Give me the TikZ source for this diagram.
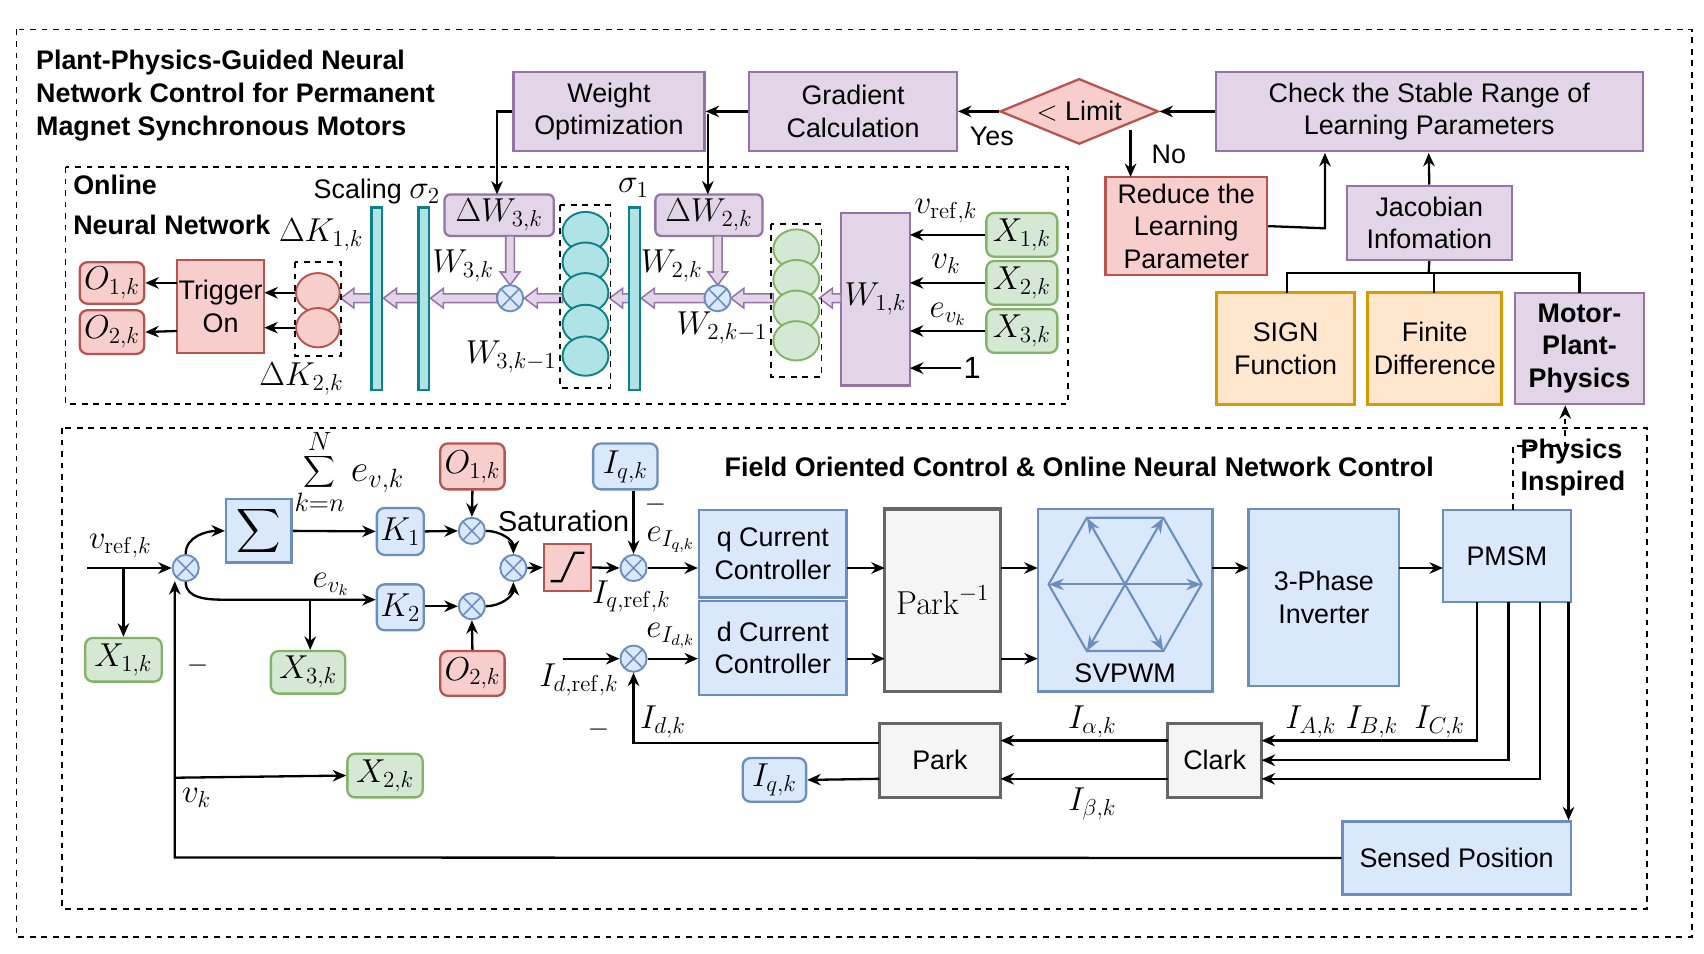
\documentclass[tikz,border=0pt]{standalone}
\usepackage[no-math]{fontspec}
\setmainfont{Liberation Sans}
\usepackage{graphicx}
\usetikzlibrary{arrows.meta,shapes.geometric,calc}
\definecolor{pF}{HTML}{E1D5E7}\definecolor{pD}{HTML}{9673A6}
\definecolor{rF}{HTML}{F8CECC}\definecolor{rD}{HTML}{B85450}
\definecolor{bF}{HTML}{DAE8FC}\definecolor{bD}{HTML}{6C8EBF}
\definecolor{gF}{HTML}{D5E8D4}\definecolor{gD}{HTML}{82B366}
\definecolor{oF}{HTML}{FFE6CC}\definecolor{oD}{HTML}{D79B00}
\definecolor{yF}{HTML}{F5F5F5}\definecolor{yD}{HTML}{666666}
\definecolor{tF}{HTML}{B0E3E6}\definecolor{tD}{HTML}{0E8088}
\newcommand\bx[7]{\node[#6, minimum width={(#4-#2)*0.02cm}, minimum height={(#5-#3)*0.02cm}] (#1) at ({(#2+#4)/2},{(#3+#5)/2}) {#7};}
\newcommand\fatL[3]{\draw[pD,fill=pF,line width=0.8pt] (#1,#3-4) -- (#2+12,#3-4) -- (#2+12,#3-9) -- (#2,#3) -- (#2+12,#3+9) -- (#2+12,#3+4) -- (#1,#3+4) -- cycle;}
\newcommand\fatD[3]{\draw[pD,fill=pF,line width=0.8pt] (#1-4,#2) -- (#1-4,#3-12) -- (#1-9,#3-12) -- (#1,#3) -- (#1+9,#3-12) -- (#1+4,#3-12) -- (#1+4,#2) -- cycle;}
\tikzset{
 base/.style={draw, inner sep=0pt, align=center, font=\fontsize{14}{17}\selectfont, line width=1.2pt},
 mf/.style={font=\fontsize{18}{21}\selectfont},
 pb/.style={base, fill=pF, draw=pD},
 pr/.style={pb, rounded corners=3pt},
 rb/.style={base, fill=rF, draw=rD},
 rr/.style={rb, rounded corners=4pt, mf},
 bb/.style={base, fill=bF, draw=bD},
 br/.style={bb, rounded corners=4pt, mf},
 gr/.style={base, fill=gF, draw=gD, rounded corners=4pt, mf},
 ob/.style={base, fill=oF, draw=oD, line width=1.6pt},
 yb/.style={base, fill=yF, draw=yD, line width=1.6pt},
 tb/.style={base, fill=tF, draw=tD},
 lbl/.style={inner sep=1pt, font=\fontsize{14}{17}\selectfont, align=left},
 ml/.style={lbl, font=\fontsize{17}{20}\selectfont},
 bl/.style={lbl, font=\bfseries\fontsize{14}{17}\selectfont},
 arr/.style={-{Stealth[length=7pt,width=6pt]}, line width=1.2pt},
 ln/.style={line width=1.2pt},
 mul/.style={circle, draw=bD, fill=bF, line width=1pt, minimum size={24*0.02cm}, inner sep=0pt, path picture={\draw[bD,line width=0.8pt] (path picture bounding box.north west)++(0.14,-0.14) -- ($(path picture bounding box.south east)+(-0.14,0.14)$); \draw[bD,line width=0.8pt] ($(path picture bounding box.north east)+(-0.14,-0.14)$) -- ($(path picture bounding box.south west)+(0.14,0.14)$);}},
 dsh/.style={dashed, line width=0.9pt},
}
\begin{document}
\begin{tikzpicture}[x=0.02cm,y=-0.02cm]
\useasboundingbox (0,0) rectangle (1560,873);
\draw[dsh] (15,27) rectangle (1549,858);
\node[bl, anchor=north west] (title) at (31,44) {Plant-Physics-Guided Neural\\Network Control for Permanent\\Magnet Synchronous Motors};
% top row
\bx{wo}{470}{66}{645}{138}{pb}{Weight\\Optimization}
\bx{gc}{686}{66}{876}{138}{pb}{Gradient\\Calculation}
\node[diamond, aspect=2.4, base, fill=rF, draw=rD, minimum width={145*0.02cm}, minimum height={60*0.02cm}] (lim) at (988,102) {$<$ Limit};
\bx{chk}{1113}{66}{1504}{138}{pb}{Check the Stable Range of\\Learning Parameters}
\bx{red}{1012}{162}{1160}{252}{rb}{Reduce the\\Learning\\Parameter}
\bx{jac}{1233}{170}{1384}{238}{pb}{Jacobian\\Infomation}
\bx{sign}{1114}{268}{1240}{370}{ob}{SIGN\\Function}
\bx{fd}{1252}{268}{1375}{370}{ob}{Finite\\Difference}
\bx{mpp}{1387}{268}{1505}{370}{pb}{\bfseries Motor-\\\bfseries Plant-\\\bfseries Physics}
\draw[arr] (chk.west) -- (lim.east);
\draw[arr] (lim.west) -- (gc.east);
\draw[arr] (gc.west) -- (wo.east);
\node[lbl] (yes) at (908,125) {Yes};
\node[lbl] (no) at (1070,141) {No};
\draw[arr] (1035,119) -- (1035,162);
\draw[arr] (red.east) -- (1213,209) -- (1213,140);
\draw[arr] (jac.north) -- (1308,140);
\draw[ln] (jac.south) -- (1308,250);
\draw[ln] (1178,268) -- (1178,250) -- (1446,250) -- (1446,268);
\draw[ln] (1313,250) -- (1313,268);
% online NN
\draw[dsh] (60,153) rectangle (978,370);
\node[bl, anchor=north west] (onn) at (65,158) {Online\\[4pt]Neural Network};
\bx{dw3}{407}{178}{507}{216}{pr}{\fontsize{18}{21}\selectfont$\Delta W_{3,k}$}
\bx{dw2}{600}{178}{698}{216}{pr}{\fontsize{18}{21}\selectfont$\Delta W_{2,k}$}
\draw[arr] (wo.west) -- (455,102) -- (455,178);
\draw[arr] (648,104) -- (648,178);
\bx{w1}{770}{195}{833}{353}{pb}{\fontsize{18}{21}\selectfont$W_{1,k}$}
\bx{x1}{903}{195}{968}{235}{gr}{$X_{1,k}$}
\bx{x2}{903}{239}{968}{279}{gr}{$X_{2,k}$}
\bx{x3}{903}{283}{968}{323}{gr}{$X_{3,k}$}
\draw[arr] (x1.west) -- (833,215);
\draw[arr] (x2.west) -- (833,259);
\draw[arr] (x3.west) -- (833,303);
\node[lbl, font=\fontsize{16}{18}\selectfont] (one) at (890,337) {1};
\draw[arr] (one.west) -- (833,337);
\node[ml] (l1) at (866,193) {$v_{\mathrm{ref},k}$};
\node[ml] (l2) at (866,242) {$v_k$};
\node[ml] (l3) at (868,288) {$e_{v_k}$};
% fat arrows
\fatL{770}{750}{273}
\fatL{708}{669}{273}
\fatL{645}{587}{273}
\fatL{576}{558}{273}
\fatL{515}{480}{273}
\fatL{455}{394}{273}
\fatL{383}{351}{273}
\fatL{340}{312}{273}
\fatD{467}{216}{261}
\fatD{657}{216}{261}
\node[mul] (m3) at (467,273) {};
\node[mul] (m2) at (657,273) {};
\bx{s1}{576}{190}{586}{357}{tb}{}
\bx{sc1}{340}{190}{350}{357}{tb}{}
\bx{sc2}{383}{190}{393}{357}{tb}{}
\node[lbl] (sig2) at (345,175) {Scaling \fontsize{17}{20}\selectfont$\sigma_2$};
\node[ml] (sig1) at (580,172) {$\sigma_1$};
\foreach \y/\n in {212/a,240/b,268/c,297/d,326/e} \node[ellipse, draw=tD, fill=tF, line width=1pt, minimum width={42*0.02cm}, minimum height={36*0.02cm}] (c\n) at (536,\y) {};
\draw[dsh] (513,188) rectangle (559,355);
\foreach \y/\n in {228/a,256/b,284/c,312/d} \node[ellipse, draw=gD, fill=gF, line width=1pt, minimum width={42*0.02cm}, minimum height={36*0.02cm}] (g\n) at (729,\y) {};
\draw[dsh] (706,205) rectangle (752,345);
\node[ellipse, draw=rD, fill=rF, line width=1pt, minimum width={40*0.02cm}, minimum height={36*0.02cm}] (ra) at (291,268) {};
\node[ellipse, draw=rD, fill=rF, line width=1pt, minimum width={40*0.02cm}, minimum height={36*0.02cm}] (rbb) at (291,300) {};
\draw[dsh] (270,240) rectangle (312,326);
\node[ml] (dk1) at (294,215) {$\Delta K_{1,k}$};
\node[ml] (dk2) at (276,347) {$\Delta K_{2,k}$};
\bx{trig}{162}{238}{242}{323}{rb}{Trigger\\On}
\bx{o1}{73}{240}{132}{278}{rr}{$O_{1,k}$}
\bx{o2}{73}{284}{132}{324}{rr}{$O_{2,k}$}
\draw[arr] (ra.west) -- (242,268);
\draw[arr] (rbb.west) -- (242,300);
\draw[arr] (162,259) -- (o1.east);
\draw[arr] (162,303) -- (o2.east);
\node[ml] (w3) at (424,243) {$W_{3,k}$};
\node[ml] (w3m) at (468,327) {$W_{3,k-1}$};
\node[ml] (w2) at (615,243) {$W_{2,k}$};
\node[ml] (w2m) at (661,300) {$W_{2,k-1}$};
% bottom
\draw[dsh] (57,392) rectangle (1508,832);
\node[bl] (foc) at (988,427) {Field Oriented Control \& Online Neural Network Control};
\node[mul] (S0) at (170,520) {};
\node[mul] (S1) at (432,486) {};
\node[mul] (S2) at (470,520) {};
\node[mul] (S3) at (432,555) {};
\node[mul] (Sq) at (580,520) {};
\node[mul] (Sd) at (580,603) {};
\bx{sig}{207}{457}{267}{515}{bb}{\scalebox{1.6}{$\displaystyle\sum$}}
\node[ml] (sumlbl) at (320,432) {\scalebox{1.15}{$\displaystyle\sum_{k=n}^{N} e_{v,k}$}};
\bx{k1}{345}{465}{388}{508}{br}{$K_1$}
\bx{k2}{345}{535}{388}{577}{br}{$K_2$}
\bx{bo1}{403}{406}{462}{448}{rr}{$O_{1,k}$}
\bx{bo2}{403}{596}{462}{637}{rr}{$O_{2,k}$}
\bx{iq}{543}{406}{602}{448}{br}{$I_{q,k}$}
\bx{sat}{498}{498}{541}{541}{rb}{}
\draw[line width=1.2pt] (504,532) -- (514,532) -- (526,506) -- (535,506);
\node[lbl, font=\fontsize{15}{17}\selectfont] (satl) at (516,477) {Saturation};
\bx{qc}{640}{467}{775}{547}{bb}{q Current\\Controller}
\bx{dc}{640}{550}{775}{636}{bb}{d Current\\Controller}
\bx{pk1}{810}{466}{916}{633}{yb}{\fontsize{18}{21}\selectfont$\mathrm{Park}^{-1}$}
\bx{svp}{950}{466}{1110}{633}{bb}{}
\node[lbl] (svpl) at (1030,616) {SVPWM};
\begin{scope}[bD, line width=1.1pt]
\coordinate (hc) at (1030,535);
\draw (960,535) -- (995,474) -- (1065,474) -- (1100,535) -- (1065,596) -- (995,596) -- cycle;
\foreach \a/\b in {960/535,995/474,1065/474,1100/535,1065/596,995/596} \draw[-{Stealth[length=8pt,width=6pt]}] (hc) -- (\a,\b);
\end{scope}
\bx{inv}{1143}{466}{1281}{628}{bb}{3-Phase\\Inverter}
\bx{pmsm}{1321}{467}{1438}{551}{bb}{PMSM}
\bx{park}{805}{662}{916}{730}{yb}{Park}
\bx{clark}{1069}{662}{1155}{730}{yb}{Clark}
\bx{iqb}{680}{694}{738}{734}{br}{$I_{q,k}$}
\bx{sens}{1229}{752}{1438}{819}{bb}{Sensed Position}
\bx{bx1}{78}{584}{148}{624}{gr}{$X_{1,k}$}
\bx{bx3}{248}{596}{316}{635}{gr}{$X_{3,k}$}
\bx{bx2}{318}{690}{387}{730}{gr}{$X_{2,k}$}
\node[bl] (phys) at (1440,428) {Physics\\Inspired};
\draw[dsh, -{Stealth[length=7pt,width=6pt]}] (1385,467) -- (1385,408) -- (1433,408) -- (mpp.south -| 1433,0);
% connections
\coordinate (vin) at (80,520);
\draw[arr] (vin) -- (S0.west);
\draw[arr] (113,520) -- (bx1.north -| 113,0);
\node[ml] (vrefl) at (110,500) {$v_{\mathrm{ref},k}$};
\draw[arr] (S0.north) to[out=90,in=180] (sig.west);
\draw[arr] (sig.east) -- (k1.west);
\draw[arr] (k1.east) -- (S1.west);
\draw[arr] (S1.east) to[out=0,in=90] (S2.north);
\draw[arr] (S0.south) to[out=-90,in=180] (205,549) -- (k2.west |- 0,549);
\draw[arr] (284,549) -- (bx3.north -| 284,0);
\node[ml] (evl) at (303,535) {$e_{v_k}$};
\draw[arr] (k2.east |- 0,555) -- (S3.west);
\draw[arr] (S3.east) to[out=0,in=-90] (S2.south);
\draw[arr] (bo1.south) -- (S1.north);
\draw[arr] (bo2.north) -- (S3.south);
\draw[arr] (S2.east) -- (sat.west);
\draw[arr] (sat.east) -- (Sq.west);
\draw[arr] (iq.south -| Sq) -- (Sq.north);
\node[lbl] (mq) at (600,462) {$-$};
\node[ml] (eiq) at (614,494) {$e_{I_{q,k}}$};
\node[ml] (iqr) at (578,546) {$I_{q,\mathrm{ref},k}$};
\draw[arr] (Sq.east) -- (qc.west |- Sq);
\coordinate (idin) at (515,603);
\draw[arr] (idin) -- (Sd.west);
\node[ml] (idr) at (530,622) {$I_{d,\mathrm{ref},k}$};
\draw[arr] (Sd.east) -- (dc.west |- Sd);
\node[ml] (eid) at (614,582) {$e_{I_{d,k}}$};
\draw[arr] (775,520) -- (810,520);
\draw[arr] (775,603) -- (810,603);
\draw[arr] (916,520) -- (950,520);
\draw[arr] (916,603) -- (950,603);
\draw[arr] (1110,520) -- (1143,520);
\draw[arr] (1281,520) -- (1321,520);
\draw[arr] (1352,551) -- (1352,678) -- (1155,678);
\draw[arr] (1381,551) -- (1381,696) -- (1155,696);
\draw[arr] (1410,551) -- (1410,713) -- (1155,713);
\draw[arr] (1436,551) -- (sens.north -| 1436,0);
\node[ml] (ia) at (1200,661) {$I_{A,k}$};
\node[ml] (ib) at (1256,661) {$I_{B,k}$};
\node[ml] (ic) at (1318,661) {$I_{C,k}$};
\draw[arr] (1069,678) -- (916,678);
\draw[arr] (1069,713) -- (916,713);
\node[ml] (ial) at (1000,661) {$I_{\alpha,k}$};
\node[ml] (ibl) at (1000,736) {$I_{\beta,k}$};
\draw[arr] (805,680) -- (580,680) -- (Sd.south);
\node[ml] (idl) at (607,661) {$I_{d,k}$};
\node[lbl] (md) at (548,668) {$-$};
\draw[arr] (805,713) -- (iqb.east);
\draw[arr] (sens.west) -- (160,785) -- (160,532);
\draw[arr] (160,712) -- (bx2.west);
\node[ml] (vkl) at (180,730) {$v_k$};
\node[lbl] (m0) at (181,609) {$-$};
\end{tikzpicture}
\end{document}
